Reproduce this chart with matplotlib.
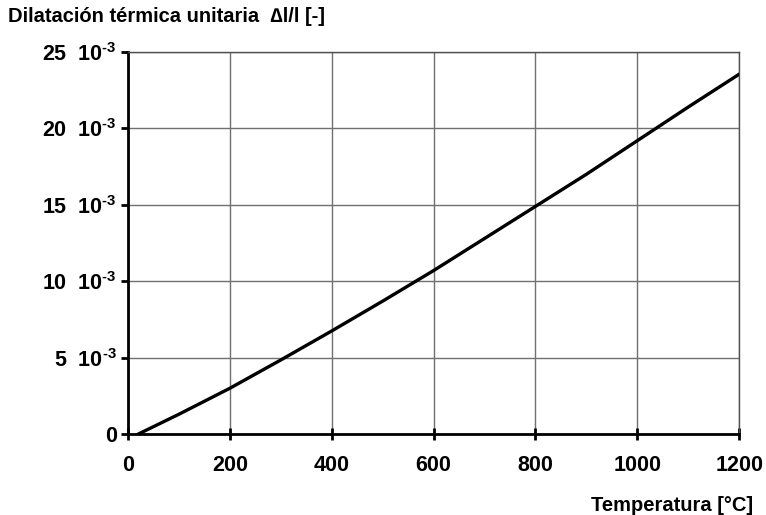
import numpy as np
import matplotlib
matplotlib.use("Agg")
import matplotlib.pyplot as plt

plt.rcParams['font.family'] = ['Liberation Sans', 'DejaVu Sans']
plt.rcParams['font.weight'] = 'bold'
plt.rcParams['mathtext.fontset'] = 'custom'
plt.rcParams['mathtext.rm'] = 'Liberation Sans:bold'
plt.rcParams['mathtext.it'] = 'Liberation Sans:bold'
plt.rcParams['mathtext.bf'] = 'Liberation Sans:bold'

# thermal elongation curve
temperature = [20, 100, 200, 300, 400, 500, 600, 700, 800, 900, 1000, 1100, 1200]
elongation = [0.0, 1.3, 3.0, 4.85, 6.75, 8.7, 10.7, 12.8, 14.9, 17.0, 19.2, 21.4, 23.55]  # x 1e-3

x_ticks = [0, 200, 400, 600, 800, 1000, 1200]
y_ticks = [0, 5, 10, 15, 20, 25]
y_labels = ["0"] + [str(v) + r"  10$^{\text{-3}}$" for v in y_ticks[1:]]

fig = plt.figure(figsize=(7.66, 5.15), dpi=100)
ax = fig.add_axes([0.167, 0.157, 0.798, 0.742])

ax.plot(temperature, np.array(elongation), color='black', lw=2.4, zorder=3)

ax.set_xlim(0, 1200)
ax.set_ylim(0, 25)
ax.set_xticks(x_ticks)
ax.set_yticks(y_ticks)
ax.set_yticklabels(y_labels)

ax.grid(True, color='#707070', lw=1.0)
ax.set_axisbelow(True)

for s in ['left', 'bottom']:
    ax.spines[s].set_linewidth(2)
    ax.spines[s].set_color('black')
for s in ['top', 'right']:
    ax.spines[s].set_linewidth(1)
    ax.spines[s].set_color('#505050')

ax.tick_params(axis='x', direction='inout', length=8, width=2, pad=11, labelsize=15.5)
ax.tick_params(axis='y', direction='out', length=5, width=2, pad=3, labelsize=15.5)

fig.text(0.01, 0.967, "Dilatación térmica unitaria  ∆l/l [-]", fontsize=14.5,
         fontweight='bold', ha='left', va='center')
fig.text(0.983, 0.019, "Temperatura [°C]", fontsize=14.5, fontweight='bold',
         ha='right', va='center')

fig.savefig("out.png", dpi=100)
